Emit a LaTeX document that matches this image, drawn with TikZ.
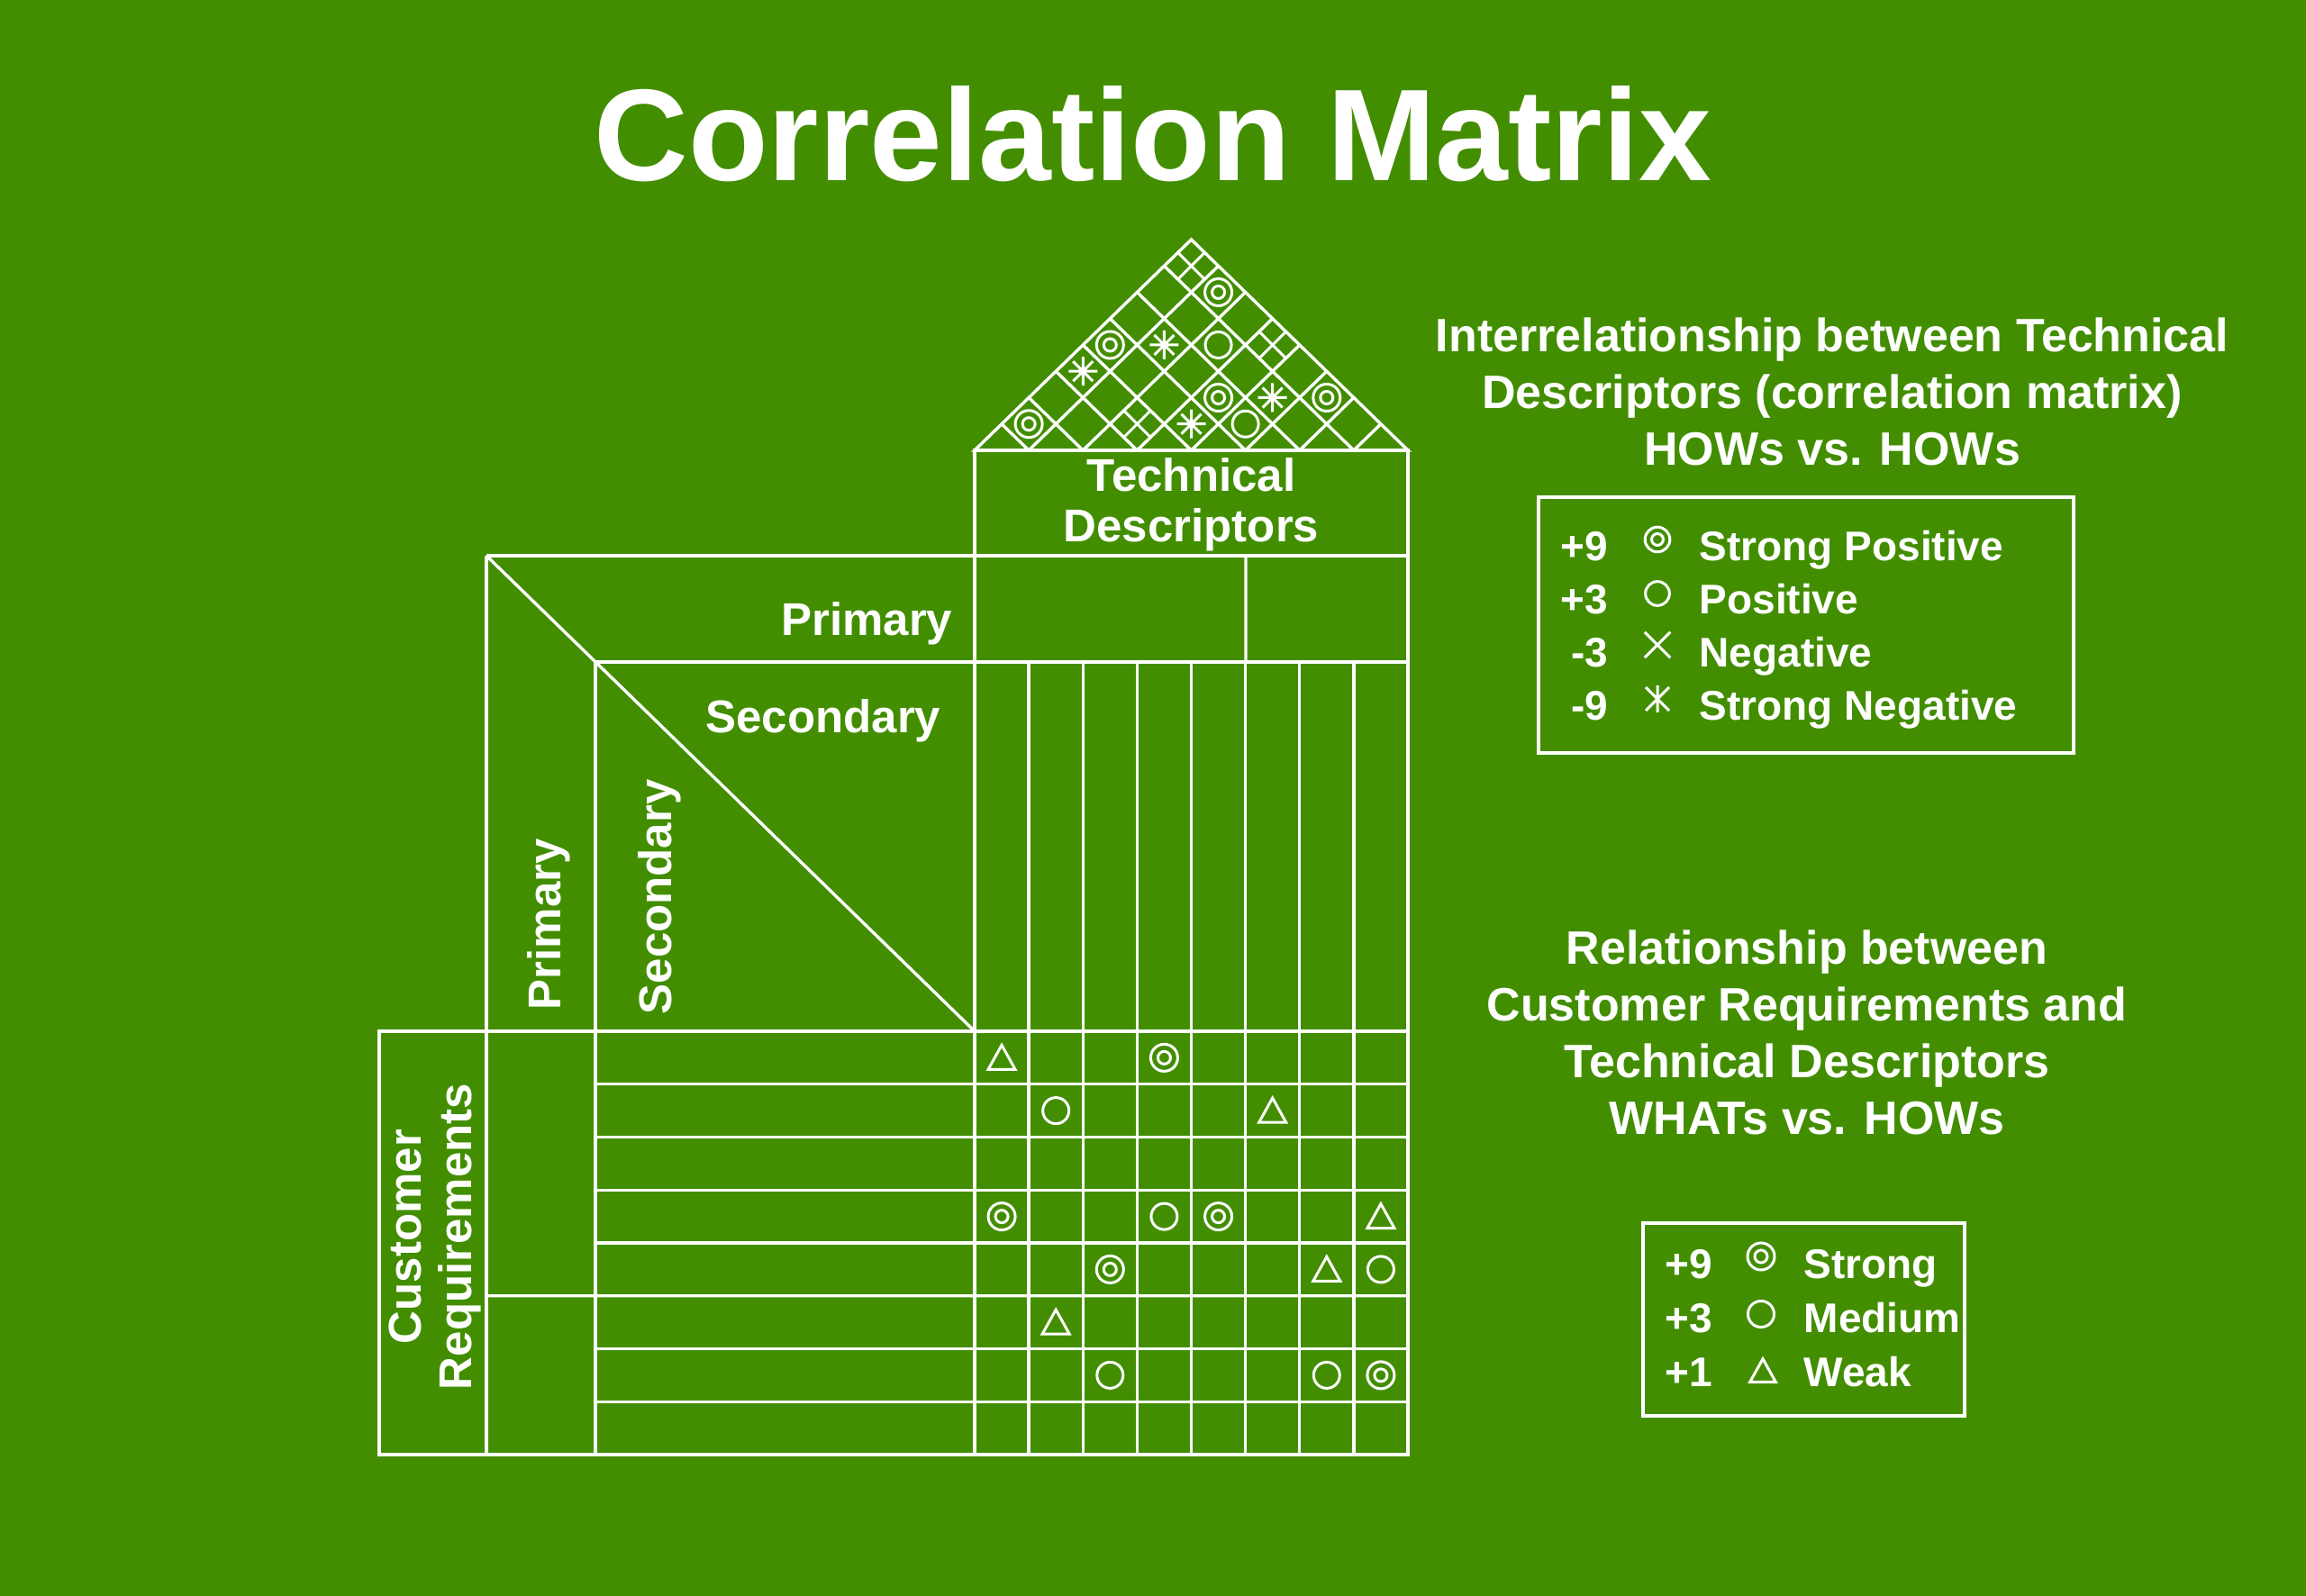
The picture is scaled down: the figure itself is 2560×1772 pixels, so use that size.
\documentclass[tikz,border=0pt]{standalone}
\usepackage{fontspec}
\setmainfont{Liberation Sans}
\definecolor{leaf}{HTML}{428E00}

\begin{document}
\begin{tikzpicture}[x=.1mm,y=-.1mm,
 ln/.style={draw=white,line width=.34mm},
 sy/.style={draw=white,line width=.3mm},
 lbl/.style={text=white,inner sep=0,font=\bfseries\fontsize{5.1mm}{5.6mm}\selectfont},
 hd/.style={lbl,align=center,font=\bfseries\fontsize{5.2mm}{6.3mm}\selectfont},
 key/.style={lbl,font=\bfseries\fontsize{4.6mm}{5.5mm}\selectfont},
 pics/sp/.style={code={\draw[sy] (0,0) circle(15) (0,0) circle(7);}},
 pics/po/.style={code={\draw[sy] (0,0) circle(14.5);}},
 pics/ng/.style={code={\draw[sy] (-15,-15)--(15,15) (-15,15)--(15,-15);}},
 pics/sn/.style={code={\draw[sy] (-16,0)--(16,0) (0,-16)--(0,16) (-11,-11)--(11,11) (-11,11)--(11,-11);}},
 pics/snl/.style={code={\draw[sy] (0,-15)--(0,15) (-13,-13)--(13,13) (-13,13)--(13,-13);}},
 pics/wk/.style={code={\draw[sy] (-15,13)--(15,13)--(0,-14)--cycle;}}]
\fill[leaf] (0,0) rectangle (2560,1772);
\node[lbl,font=\bfseries\fontsize{14.5mm}{17mm}\selectfont,anchor=base] (title) at (1280,201) {Correlation Matrix};
% roof
\draw[ln] (1082,500) -- (1322.5,266) -- (1563,500) -- cycle;
\foreach \k in {1,...,7}{
 \draw[ln] ({1082+\k*60.125},500) -- ++({(8-\k)*30.0625},{-(8-\k)*29.25});
 \draw[ln] ({1082+\k*60.125},500) -- ++({-\k*30.0625},{-\k*29.25});}
\foreach \i/\j in {1/2,1/5,2/8,4/6,6/8} \pic at ({1082+(\i+\j-1)*30.0625},{500-(\j-\i)*29.25}) {sp};
\foreach \i/\j in {3/7,5/6} \pic at ({1082+(\i+\j-1)*30.0625},{500-(\j-\i)*29.25}) {po};
\foreach \i/\j in {1/8,3/4,4/8} \pic at ({1082+(\i+\j-1)*30.0625},{500-(\j-\i)*29.25}) {ng};
\foreach \i/\j in {1/4,2/6,4/5,5/7} \pic at ({1082+(\i+\j-1)*30.0625},{500-(\j-\i)*29.25}) {sn};
% house body
\draw[ln] (1082,500) rectangle (1563,1615) (540,617) -- (1563,617) (540,617) -- (540,1615);
\draw[ln] (421,1145) rectangle (1563,1615) (661,735) -- (1563,735) (661,735) -- (661,1615);
\draw[ln] (1383,617) -- (1383,735) (540,617) -- (1082,1145) (540,1438.75) -- (1563,1438.75);
\foreach \k in {1,...,7} \draw[ln] ({1082+\k*60.125},735) -- ++(0,880);
\foreach \r in {1,2,3,4,6,7} \draw[ln] (661,{1145+\r*58.75}) -- (1563,{1145+\r*58.75});
\foreach \r/\c in {1/4,4/1,4/5,5/3,7/8} \pic at ({1082+(\c-.5)*60.125},{1145+(\r-.5)*58.75}) {sp};
\foreach \r/\c in {2/2,4/4,5/8,7/3,7/7} \pic at ({1082+(\c-.5)*60.125},{1145+(\r-.5)*58.75}) {po};
\foreach \r/\c in {1/1,2/6,4/8,5/7,6/2} \pic at ({1082+(\c-.5)*60.125},{1145+(\r-.5)*58.75}) {wk};
\node[lbl,align=center] (tech) at (1322.5,560) {Technical\\Descriptors};
\node[lbl,anchor=base east] (prim) at (1058,706) {Primary};
\node[lbl,anchor=base east] (sec) at (1045,814) {Secondary};
\node[lbl,rotate=90,anchor=west] (primv) at (609,1122) {Primary};
\node[lbl,rotate=90,anchor=west] (secv) at (732,1127) {Secondary};
\node[lbl,rotate=90,align=center] (cust) at (483,1373) {Customer\\Requirements};
% legends
\node[hd] (hows) at (2034,435) {Interrelationship between Technical\\Descriptors (correlation matrix)\\HOWs vs. HOWs};
\draw[ln] (1708,552) rectangle (2302,836);
\foreach \v/\w/\yy [count=\i] in {+9/Strong Positive/623,+3/Positive/682,-3/Negative/741,-9/Strong Negative/800}{
 \node[key,anchor=base east] (v\i) at (1786,\yy) {\v};
 \node[key,anchor=base west] (w\i) at (1886,\yy) {\w};}
\pic[scale=.92] at (1840,599) {sp}; \pic[scale=.92] at (1840,659) {po};
\pic[scale=.95] at (1840,716) {ng}; \pic[scale=1] at (1840,776) {snl};
\node[hd] (whats) at (2006,1146) {Relationship between\\Customer Requirements and\\Technical Descriptors\\WHATs vs. HOWs};
\draw[ln] (1824,1358) rectangle (2181,1572);
\foreach \v/\w/\yy [count=\i] in {+9/Strong/1420,+3/Medium/1480,+1/Weak/1540}{
 \node[key,anchor=base east] (u\i) at (1902,\yy) {\v};
 \node[key,anchor=base west] (m\i) at (2002,\yy) {\w};}
\pic at (1955,1395) {sp}; \pic at (1955,1459) {po}; \pic[scale=.95] at (1957,1522) {wk};
\end{tikzpicture}
\end{document}
